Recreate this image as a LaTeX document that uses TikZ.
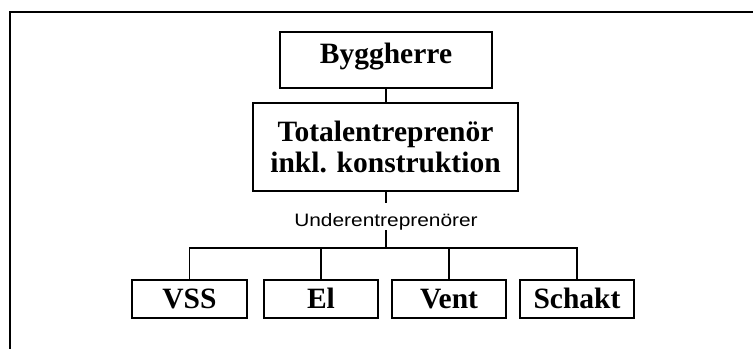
\documentclass[tikz,border=0pt]{standalone}
\usepackage{fontspec}
\setmainfont{Liberation Serif}
\newfontfamily\uefont[FakeStretch=1.16]{Liberation Sans}
\begin{document}
\begin{tikzpicture}[x=1pt,y=-1pt,
  box/.style={draw, line width=1.6pt, rectangle, inner sep=0pt,
    font=\bfseries\fontsize{29.5}{31.5}\selectfont},
  sub/.style={box, minimum width=114.5pt, minimum height=38pt,
    text height=20pt, text depth=1pt},
  conn/.style={line width=1.1pt},
  frame/.style={line width=2pt}]
\useasboundingbox (0,0) rectangle (753,349);
% open frame around the chart
\draw[frame] (753,11.5) -- (9.5,11.5) -- (9.5,349);

% top level
\node[box, minimum width=212pt, minimum height=56pt,
      text height=20pt, text depth=14pt] (bygg) at (386,60) {Byggherre};
\node[box, minimum width=265pt, minimum height=88pt, align=center]
      (tot) at (385.5,147) {\raisebox{-2.5pt}{Totalentreprenör}\\\raisebox{-2.5pt}{inkl. konstruktion}};
\node[inner sep=0pt, anchor=base, font=\uefont\fontsize{18}{20}\selectfont]
      (ue) at (386,226.5) {Underentreprenörer};

% subcontractors
\node[sub] (vss)    at (189.5,299) {VSS};
\node[sub] (el)     at (321,299)   {El};
\node[sub] (vent)   at (449,299)   {Vent};
\node[sub] (schakt) at (577,299)   {Schakt};

% ends of the stem that passes behind the label
\coordinate (ueTop) at (386,203);
\coordinate (ueBot) at (386,230);
\coordinate (hub) at (386,248);

% connectors
\draw[conn] (bygg.south) -- (tot.north -| bygg.south);
\draw[conn] (tot.south -| ueTop) -- (ueTop);
\draw[conn] (ueBot) -- (hub);
\draw[conn] (vss.north) |- (hub) -| (schakt.north);
\draw[conn] (el.north) -- (el.north |- hub);
\draw[conn] (vent.north) -- (vent.north |- hub);
\end{tikzpicture}
\end{document}
